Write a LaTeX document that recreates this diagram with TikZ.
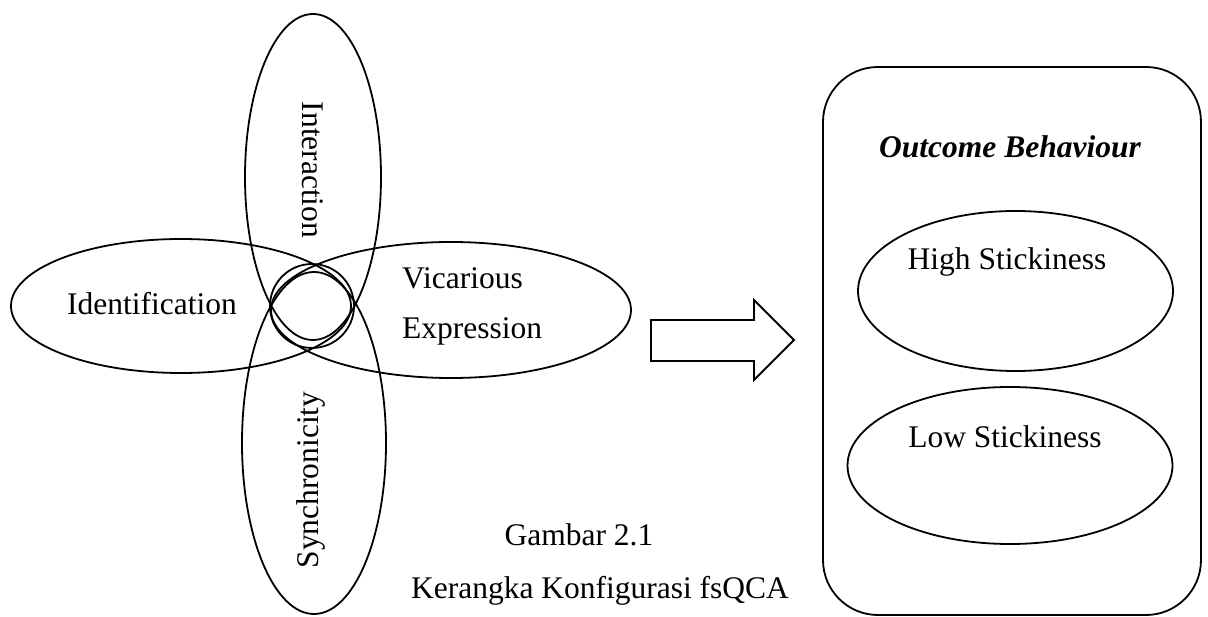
\documentclass[tikz,border=0pt]{standalone}
\usepackage{fontspec}
\setmainfont{Liberation Serif}
\usetikzlibrary{shapes.geometric}
\begin{document}
\begin{tikzpicture}[x=1pt,y=-1pt,
  shp/.style={draw=black,line width=1.8pt,inner sep=0pt,outer sep=0pt},
  ell/.style={shp,ellipse},
  lbl/.style={font=\fontsize{31.5}{38}\selectfont,inner sep=0pt}]
\useasboundingbox (0,0) rectangle (1208,617);
% left cluster
\node[ell,minimum width=136pt,minimum height=326pt] (inter) at (313,177) {};
\node[ell,minimum width=144pt,minimum height=342pt] (sync) at (314,443) {};
\node[ell,minimum width=340pt,minimum height=134pt] (ident) at (181,306) {};
\node[ell,minimum width=360pt,minimum height=136pt] (vic) at (451,310) {};
\node[shp,circle,minimum size=84pt] (core) at (312,306) {};
\node[lbl,rotate=-90] (tinter) at (313,170) {Interaction};
\node[lbl,rotate=90] (tsync) at (311,480) {Synchronicity};
\node[lbl,anchor=base] (tident) at (152,315) {Identification};
\node[lbl,anchor=base west] (tvic1) at (402,289) {Vicarious};
\node[lbl,anchor=base west] (tvic2) at (402,339) {Expression};
% caption
\node[lbl,anchor=base] (cap1) at (579,545) {Gambar 2.1};
\node[lbl,anchor=base] (cap2) at (600,598) {Kerangka Konfigurasi fsQCA};
% block arrow
\draw[line width=1.8pt,line join=miter] (651,320) -- (754,320) -- (754,300) -- (794,340) -- (754,380) -- (754,361) -- (651,361) -- cycle;
% outcome box
\node[shp,rectangle,rounded corners=55pt,minimum width=378pt,minimum height=548pt] (box) at (1012,341) {};
\node[lbl,anchor=base,font=\fontsize{31.5}{38}\selectfont\bfseries\itshape] (tout) at (1010,158) {Outcome Behaviour};
\node[ell,minimum width=315pt,minimum height=160pt] (high) at (1015.5,291) {};
\node[ell,minimum width=325pt,minimum height=157pt] (low) at (1010,465.5) {};
\node[lbl,anchor=base] (thigh) at (1007,270) {High Stickiness};
\node[lbl,anchor=base] (tlow) at (1005,448) {Low Stickiness};
\end{tikzpicture}
\end{document}
